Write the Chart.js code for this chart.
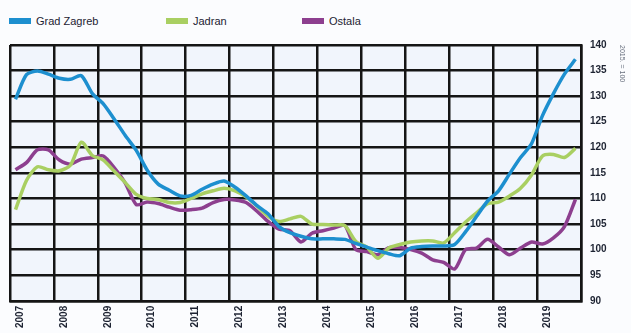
<!DOCTYPE html>
<html>
<head>
<meta charset="utf-8">
<script src="https://cdn.jsdelivr.net/npm/chart.js@4.4.1/dist/chart.umd.min.js"></script>
<style>
  html, body { margin: 0; padding: 0; background: #fbfcfe; }
  #wrap { position: relative; width: 631px; height: 333px; }
  #chart { position: absolute; left: 0; top: 0; }
  .item { position: absolute; top: 15px; white-space: nowrap;
          font: 11px "Liberation Sans", Arial, sans-serif; color: #1d2332; line-height: 12px; }
  .sw { display: inline-block; width: 22px; height: 6px; vertical-align: middle; margin-right: 5px; margin-top: -2px; }
</style>
</head>
<body>
<div id="wrap">
  <div class="item" style="left:9px"><span class="sw" style="background:#1d8fcf"></span>Grad Zagreb</div>
  <div class="item" style="left:166px"><span class="sw" style="background:#a9cf62"></span>Jadran</div>
  <div class="item" style="left:302px"><span class="sw" style="background:#8d3f8f"></span>Ostala</div>
  <canvas id="chart" width="631" height="333"></canvas>
</div>
<script>
// kvartalni indeks cijena stanova, 2015 = 100
const startYear = 2007;
const endYear = 2020;
const seriesNames = ['Grad Zagreb', 'Jadran', 'Ostala'];
const seriesColors = ['#1d8fcf', '#a9cf62', '#8d3f8f'];

const gradZagreb = [
  129.4, 134.2, 134.9, 134.3,
  133.5, 133.3, 134.0, 130.5,
  128.5, 125.5, 122.3, 119.4,
  115.5, 112.8, 111.6, 110.5,
  110.6, 111.8, 112.8, 113.4,
  112.2, 110.5, 108.6, 107.0,
  104.5, 103.3, 102.6, 102.1,
  102.1, 102.1, 102.0, 101.2,
  100.5,  99.8,  99.2,  98.8,
  100.3, 100.6, 100.7, 100.7,
  101.0, 103.5, 106.5, 109.5,
  111.5, 114.8, 118.0, 120.7,
  126.2, 130.5, 134.3, 137.2
];
const jadran = [
  107.8, 113.5, 116.2, 115.6,
  115.4, 116.5, 121.0, 118.4,
  117.5, 115.3, 113.1, 110.8,
  110.0, 109.8, 109.2, 109.2,
  110.0, 110.9, 111.5, 112.0,
  111.5, 110.3, 108.5, 106.5,
  105.5, 106.0, 106.5, 105.0,
  104.9, 104.8, 104.7, 101.6,
  100.5,  98.3, 100.3, 101.0,
  101.5, 101.7, 101.7, 101.3,
  103.3, 105.4, 107.2, 109.0,
  109.3, 110.5, 112.0, 114.6,
  118.3, 118.6, 118.0, 119.8
];
const ostala = [
  115.6, 117.0, 119.5, 119.5,
  117.5, 116.7, 117.7, 118.0,
  118.3, 116.0, 113.0, 108.8,
  109.3, 109.0, 108.3, 107.7,
  107.8, 108.1, 109.2, 109.8,
  109.7, 109.2, 107.5, 105.5,
  104.0, 103.7, 101.5, 103.2,
  103.7, 104.2, 104.7, 100.0,
   99.6,  99.0, 100.4, 100.4,
  100.0,  99.3,  98.0,  97.5,
   96.2, 100.0, 100.3, 102.0,
  100.5,  99.0, 100.3, 101.5,
  101.1, 102.3, 104.5, 109.8
];
const yMin = 90, yMax = 140, yStep = 5;

// tocka u sredini kvartala
function toPoints(arr) {
  return arr.map((v, i) => ({ x: startYear + (i + 0.5) / 4, y: v }));
}

const plotBg = {
  id: 'plotBg',
  beforeDraw(chart) {
    const { ctx, chartArea: a } = chart;
    ctx.save();
    ctx.fillStyle = '#f1f5fc';
    ctx.fillRect(a.left, a.top, a.right - a.left, a.bottom - a.top);
    ctx.restore();
  }
};

const allSeries = [gradZagreb, jadran, ostala];

new Chart(document.getElementById('chart'), {
  type: 'line',
  data: {
    datasets: allSeries.map((arr, i) => ({
      label: seriesNames[i],
      data: toPoints(arr),
      borderColor: seriesColors[i],
      backgroundColor: seriesColors[i],
      borderWidth: 3.5,
      pointRadius: 0,
      tension: 0.25,
      fill: false
    }))
  },
  options: {
    responsive: false,
    animation: false,
    layout: { padding: { left: 10, top: 45, right: 1, bottom: 0 } },
    plugins: { legend: { display: false }, tooltip: { enabled: false } },
    scales: {
      x: {
        type: 'linear',
        min: startYear,
        max: endYear,
        grid: { color: '#151515', lineWidth: 2.5, drawTicks: false },
        border: { color: '#151515', width: 2.5 },
        ticks: {
          stepSize: 1,
          autoSkip: false,
          minRotation: 90,
          maxRotation: 90,
          padding: 5,
          labelOffset: 10,
          color: '#1d2332',
          font: { family: 'Liberation Sans, Arial, sans-serif', size: 10, weight: 'bold' },
          callback: v => (v < endYear ? String(v) : '')
        }
      },
      y: {
        position: 'right',
        min: yMin,
        max: yMax,
        grid: { color: '#151515', lineWidth: 2.5, drawTicks: false },
        border: { color: '#151515', width: 2.5 },
        ticks: {
          stepSize: yStep,
          padding: 9,
          color: '#1d2332',
          font: { family: 'Liberation Sans, Arial, sans-serif', size: 10, weight: 'bold' }
        },
        title: {
          display: true,
          text: '2015. = 100',
          align: 'end',
          color: '#6b7280',
          padding: { top: 4, bottom: 2 },
          font: { family: 'Liberation Sans, Arial, sans-serif', size: 7 }
        }
      }
    }
  },
  plugins: [plotBg]
});
</script>
</body>
</html>
